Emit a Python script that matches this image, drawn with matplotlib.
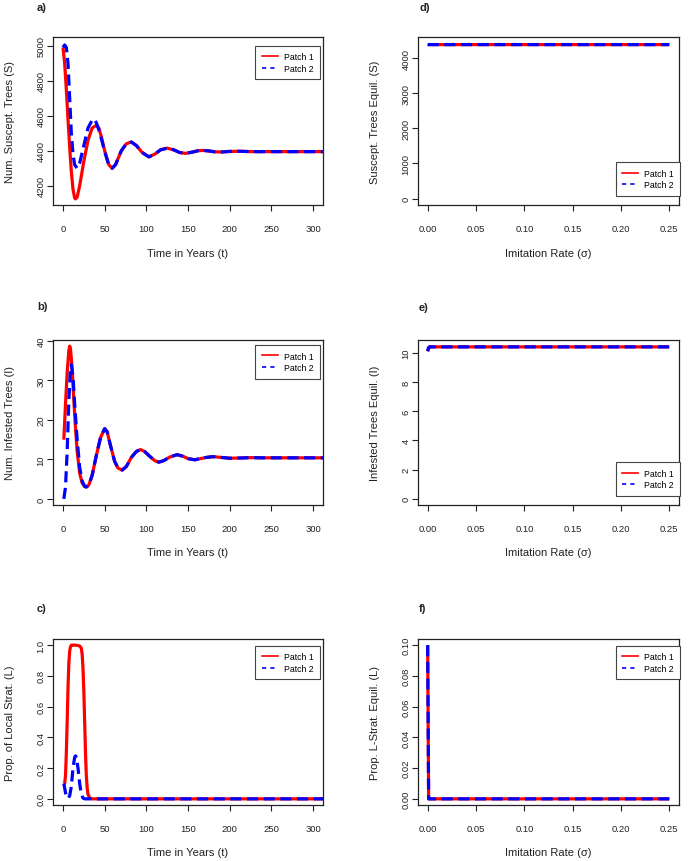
import matplotlib
matplotlib.use("Agg")
import matplotlib.pyplot as plt
from matplotlib.lines import Line2D

plt.rcParams["font.family"] = ["Liberation Sans", "DejaVu Sans"]
plt.rcParams["lines.scale_dashes"] = False

RED = "#ff0000"
BLUE = "#0000ff"
INK = "#222222"

# ─── Panel a: susceptible trees over time ───────────────────────────────
t_s1 = [0, 2, 4, 6, 8, 10, 12, 14, 15, 17, 20, 25, 30, 35, 40, 43, 46, 50, 55,
        59, 63, 70, 76, 82, 88, 95, 103, 110, 117, 125, 133, 140, 147, 155,
        162, 168, 175, 182, 190, 200, 212, 225, 250, 300, 330]
s_p1 = [4990, 4900, 4750, 4580, 4420, 4280, 4180, 4130, 4125, 4135, 4200, 4340,
        4460, 4530, 4545, 4530, 4480, 4400, 4320, 4300, 4320, 4400, 4440, 4450,
        4430, 4390, 4365, 4380, 4405, 4415, 4405, 4390, 4385, 4392, 4400, 4402,
        4399, 4394, 4393, 4396, 4397, 4395, 4395, 4395, 4395]
t_s2 = [0, 2, 4, 6, 8, 10, 12, 14, 17, 20, 25, 30, 35, 38, 40, 43, 46, 50, 55,
        59, 63, 70, 76, 82, 88, 95, 103, 110, 117, 125, 133, 140, 147, 155,
        162, 168, 175, 182, 190, 200, 212, 225, 250, 300, 330]
s_p2 = [4990, 5005, 4990, 4900, 4700, 4500, 4380, 4320, 4300, 4330, 4430, 4530,
        4575, 4580, 4560, 4520, 4470, 4395, 4318, 4300, 4320, 4400, 4440, 4450,
        4430, 4390, 4365, 4380, 4405, 4415, 4405, 4390, 4385, 4392, 4400, 4402,
        4399, 4394, 4393, 4396, 4397, 4395, 4395, 4395, 4395]

# ─── Panel b: infested trees over time ──────────────────────────────────
t_i1 = [1, 3, 5, 7, 8, 9, 11, 13, 15, 17, 20, 23, 26, 28, 31, 35, 40, 45, 50,
        53, 57, 62, 66, 71, 76, 82, 88, 93, 98, 104, 110, 115, 121, 128, 137,
        144, 150, 158, 165, 172, 180, 190, 200, 212, 225, 240, 260, 330]
i_p1 = [15, 24, 32, 37.5, 38.7, 38, 33, 25, 18, 12, 6.5, 4, 3.1, 3, 3.5, 6, 11,
        15.5, 17.8, 17, 13.5, 9.5, 7.8, 7.3, 8.2, 10.5, 12, 12.5, 12, 10.8, 9.7,
        9.3, 9.7, 10.6, 11.2, 10.8, 10.2, 9.9, 10.2, 10.5, 10.7, 10.5, 10.3,
        10.35, 10.45, 10.4, 10.4, 10.4]
t_i2 = [1, 3, 5, 7, 9, 10, 12, 14, 17, 20, 23, 26, 28, 31, 35, 40, 45, 50,
        53, 57, 62, 66, 71, 76, 82, 88, 93, 98, 104, 110, 115, 121, 128, 137,
        144, 150, 158, 165, 172, 180, 190, 200, 212, 225, 240, 260, 330]
i_p2 = [0, 3, 12, 25, 33, 34, 31, 24, 15, 8, 4.5, 3.2, 3, 3.5, 6, 11,
        15.5, 17.8, 17, 13.5, 9.5, 7.8, 7.3, 8.2, 10.5, 12, 12.5, 12, 10.8, 9.7,
        9.3, 9.7, 10.6, 11.2, 10.8, 10.2, 9.9, 10.2, 10.5, 10.7, 10.5, 10.3,
        10.35, 10.45, 10.4, 10.4, 10.4]

# ─── Panel c: proportion of local strategists over time ─────────────────
t_l1 = [1, 2, 3, 4, 5, 6, 7, 8, 9, 10, 15, 20, 22, 23, 24, 25, 26, 27, 28, 29,
        30, 32, 35, 330]
l_p1 = [0.1, 0.1, 0.15, 0.3, 0.5, 0.72, 0.88, 0.96, 0.99, 1.0, 1.0, 0.995,
        0.98, 0.94, 0.85, 0.7, 0.5, 0.3, 0.15, 0.07, 0.03, 0.005, 0.0, 0.0]
t_l2 = [1, 2, 3, 4, 5, 6, 8, 10, 12, 14, 15, 16, 18, 20, 22, 24, 26, 330]
l_p2 = [0.1, 0.07, 0.04, 0.02, 0.008, 0.003, 0.02, 0.08, 0.2, 0.27, 0.28,
        0.27, 0.2, 0.1, 0.03, 0.005, 0.0, 0.0]

# ─── Panels d-f: equilibria against imitation rate ──────────────────────
sigma = [0.0, 0.001, 0.002, 0.25]
s_eq1 = [4400, 4395, 4395, 4395]
s_eq2 = [4400, 4395, 4395, 4395]
i_eq1 = [10.1, 10.35, 10.4, 10.4]
i_eq2 = [10.1, 10.35, 10.4, 10.4]
l_eq1 = [0.1, 0.0, 0.0, 0.0]
l_eq2 = [0.1, 0.0, 0.0, 0.0]

W, H = 692, 862
fig = plt.figure(figsize=(W / 100, H / 100), dpi=100)


def px_axes(x0, y0, x1, y1):
    return fig.add_axes([x0 / W, 1 - y1 / H, (x1 - x0) / W, (y1 - y0) / H])


def style(ax, xlim, ylim, xticks, yticks, xfmt, yfmt, xlabel, ylabel):
    ax.set_xlim(*xlim)
    ax.set_ylim(*ylim)
    ax.set_xticks(xticks)
    ax.set_xticklabels([xfmt.format(v) for v in xticks])
    ax.set_yticks(yticks)
    ax.set_yticklabels([yfmt.format(v) for v in yticks], rotation=90,
                       va="center")
    ax.tick_params(axis="both", direction="out", length=4, width=0.8,
                   colors=INK, labelsize=6.8)
    ax.tick_params(axis="x", pad=10)
    ax.tick_params(axis="y", pad=1.5)
    for sp in ax.spines.values():
        sp.set_color(INK)
        sp.set_linewidth(0.9)
    ax.set_xlabel(xlabel, fontsize=8, color=INK)
    ax.set_ylabel(ylabel, fontsize=8, color=INK)
    ax.xaxis.set_label_coords(0.5, -0.285)
    ax.xaxis.label.set_va("center")
    ax.yaxis.label.set_va("center")


def curves(ax, x1, y1, x2, y2):
    ax.plot(x1, y1, color=RED, lw=2.3, solid_capstyle="butt")
    ax.plot(x2, y2, color=BLUE, lw=2.3, dashes=(8, 4), dash_capstyle="butt")


def legend(ax, anchor, loc):
    handles = [Line2D([], [], color=RED, lw=1.2),
               Line2D([], [], color=BLUE, lw=1.2, dashes=(3, 3))]
    leg = ax.legend(handles, ["Patch 1", "Patch 2"], loc=loc,
                    bbox_to_anchor=anchor, fontsize=6.3, handlelength=1.8,
                    handletextpad=0.7, borderpad=0.75, labelspacing=0.3,
                    fancybox=False, framealpha=1, edgecolor="#444444",
                    borderaxespad=0)
    leg.get_frame().set_linewidth(0.8)


left = (53, 323)
right = (418, 679)
rows = [(38, 206), (341, 506), (640, 806)]

time_ticks = [0, 50, 100, 150, 200, 250, 300]
sig_ticks = [0.0, 0.05, 0.10, 0.15, 0.20, 0.25]
t_lab = "Time in Years (t)"
s_lab = "Imitation Rate (\u03c3)"

# a)
ax = px_axes(left[0], rows[0][0], left[1], rows[0][1])
curves(ax, t_s1, s_p1, t_s2, s_p2)
style(ax, (-12, 312), (4090, 5050), time_ticks, [4200, 4400, 4600, 4800, 5000],
      "{:d}", "{:d}", t_lab, "Num. Suscept. Trees (S)")
ax.yaxis.set_label_coords(-0.16, 0.5)
legend(ax, (0.989, 0.948), "upper right")

# b)
ax = px_axes(left[0], rows[1][0], left[1], rows[1][1])
curves(ax, t_i1, i_p1, t_i2, i_p2)
style(ax, (-12, 312), (-1.55, 40.25), time_ticks, [0, 10, 20, 30, 40],
      "{:d}", "{:d}", t_lab, "Num. Infested Trees (I)")
ax.yaxis.set_label_coords(-0.16, 0.5)
legend(ax, (0.989, 0.97), "upper right")

# c)
ax = px_axes(left[0], rows[2][0], left[1], rows[2][1])
curves(ax, t_l1, l_p1, t_l2, l_p2)
style(ax, (-12, 312), (-0.04, 1.04), time_ticks, [0.0, 0.2, 0.4, 0.6, 0.8, 1.0],
      "{:d}", "{:.1f}", t_lab, "Prop. of Local Strat. (L)")
ax.yaxis.set_label_coords(-0.16, 0.5)
legend(ax, (0.989, 0.96), "upper right")

# d)
ax = px_axes(right[0], rows[0][0], right[1], rows[0][1])
curves(ax, sigma, s_eq1, sigma, s_eq2)
style(ax, (-0.01, 0.26), (-185, 4612), sig_ticks, [0, 1000, 2000, 3000, 4000],
      "{:.2f}", "{:d}", s_lab, "Suscept. Trees Equil. (S)")
ax.yaxis.set_label_coords(-0.165, 0.5)
legend(ax, (1.005, 0.055), "lower right")

# e)
ax = px_axes(right[0], rows[1][0], right[1], rows[1][1])
curves(ax, sigma, i_eq1, sigma, i_eq2)
style(ax, (-0.01, 0.26), (-0.42, 10.87), sig_ticks, [0, 2, 4, 6, 8, 10],
      "{:.2f}", "{:d}", s_lab, "Infested Trees Equil. (I)")
ax.yaxis.set_label_coords(-0.165, 0.5)
legend(ax, (1.005, 0.055), "lower right")

# f)
ax = px_axes(right[0], rows[2][0], right[1], rows[2][1])
curves(ax, sigma, l_eq1, sigma, l_eq2)
style(ax, (-0.01, 0.26), (-0.004, 0.104), sig_ticks,
      [0.0, 0.02, 0.04, 0.06, 0.08, 0.10],
      "{:.2f}", "{:.2f}", s_lab, "Prop. L-Strat. Equil. (L)")
ax.yaxis.set_label_coords(-0.165, 0.5)
legend(ax, (1.005, 0.96), "upper right")

# panel letters
for lab, x, y in [("a)", 37, 8), ("b)", 37, 307.5), ("c)", 37, 608.5),
                  ("d)", 419, 8), ("e)", 419, 308), ("f)", 419, 608.5)]:
    fig.text(x / W, 1 - y / H, lab, fontsize=8, fontweight="bold",
             va="center", ha="left", color=INK)

fig.savefig("out.png", dpi=100, facecolor="white")
